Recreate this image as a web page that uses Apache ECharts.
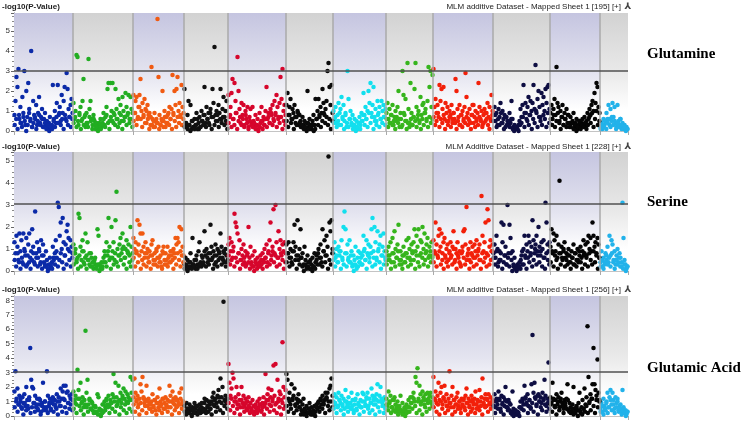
<!DOCTYPE html>
<html>
<head>
<meta charset="utf-8">
<script src="https://cdn.jsdelivr.net/npm/echarts@6/dist/echarts.min.js"></script>
<style>
html, body { margin: 0; padding: 0; background: #fff; }
#main { width: 745px; height: 427px; }
</style>
</head>
<body>
<div id="main"></div>
<script>
var chartDom = document.getElementById('main');
var myChart = echarts.init(chartDom);

// chromosome lengths (axis units) and colours, left to right
const chrLen = [59, 60, 51, 44, 58, 47, 53, 47, 60, 57, 50, 28];
const chrColors = ['#0b2aa8', '#22ad22', '#f05a12', '#111111', '#d6062c', '#0a0a0a',
  '#12dfee', '#36b51c', '#f2200a', '#0e0e42', '#050505', '#22b2ea'];

const traitNames = ['Glutamine', 'Serine', 'Glutamic Acid'];
const datasetTitles = [
  'MLM additive Dataset - Mapped Sheet 1 [195] [+]',
  'MLM Additive Dataset - Mapped Sheet 1 [228] [+]',
  'MLM additive Dataset - Mapped Sheet 1 [256] [+]'
];
const yMax = [5.9, 5.4, 8.3];
const thresholds = [3.0, 3.05, 3.05];

// -log10(p) in tenths, one list per chromosome, markers in map order
const gln = [
  [8,15,27,22,31,6,12,4,17,9,30,3,20,7,24,11,5,40,2,15,8,6,13,3,9,17,4,7,11,2,6,9,3,5,1,4,7,2,3,23,6,10,4,14,23,8,12,5,18,9,15,22,6,29,21,11,7,13,16,9],
  [14,6,10,38,37,3,8,12,5,15,26,7,2,9,4,36,11,15,6,3,8,5,1,4,2,3,1,6,2,4,9,3,7,12,21,24,5,24,10,24,4,8,21,11,6,16,9,13,5,17,10,7,19,12,8,18,6,17,11,9],
  [18,9,15,17,6,12,18,26,10,14,7,16,11,4,13,8,9,3,32,6,2,9,5,4,56,27,8,3,6,20,5,10,2,7,4,9,12,6,11,28,8,20,13,21,27,10,14,7,23,12,9],
  [21,4,2,8,15,3,13,1,5,2,6,3,9,1,4,7,2,10,5,8,22,4,12,6,9,3,11,7,21,14,42,8,10,5,13,9,21,6,11,17,7,10,15,4],
  [18,7,12,19,26,6,24,15,9,37,20,11,4,14,8,13,3,10,6,12,2,7,11,4,12,5,2,8,3,6,1,9,4,12,5,7,3,10,22,6,9,4,11,8,13,6,15,9,18,12,7,14,27,16,31,10,13,8],
  [13,19,8,12,16,6,11,9,13,4,7,10,3,8,5,2,7,3,5,1,4,20,2,6,3,1,5,8,3,16,6,10,16,7,12,9,21,14,8,11,15,30,34,22,13,23,9],
  [10,6,12,4,8,14,3,11,17,7,13,5,9,2,30,16,6,10,4,8,3,6,2,5,1,4,7,3,9,5,19,8,12,6,10,20,14,24,9,13,22,7,11,5,15,9,12,6,15,10,13,7,11],
  [9,14,6,11,4,8,13,3,7,10,5,12,20,6,9,2,30,18,8,16,5,34,11,4,24,9,3,7,21,34,12,6,10,5,17,8,13,14,9,11,6,15,32,22,30,12,28],
  [31,12,16,9,13,7,23,15,21,11,22,6,14,9,12,5,10,8,13,4,9,6,26,20,11,7,13,3,8,10,5,12,29,17,9,6,11,4,8,13,13,7,10,5,9,24,12,6,10,3,8,11,5,9,14,7,12,6,18,10],
  [8,12,5,9,3,11,7,14,4,10,6,8,2,7,5,3,9,4,15,6,2,3,1,2,1,3,5,11,7,13,23,9,14,6,12,17,8,15,10,14,23,11,33,9,16,20,12,7,19,13,17,10,21,14,22,23,11],
  [9,13,6,11,16,8,32,14,12,5,10,7,13,3,9,6,11,4,8,2,7,4,5,9,2,4,6,1,3,5,2,4,6,3,7,2,5,9,6,11,8,13,15,10,19,14,24,22,12,9],
  [2,4,1,6,3,5,9,6,13,3,11,5,14,7,12,4,2,13,5,3,6,1,4,2,3,1,2,1]
];
// the dense low-scoring markers under each chromosome, tenths
const glnBase = [
  [3,6,1,8,4,2,7,5,0,3,9,6,2,4,7,1,5,8,3,6,2,4,1,3,0,2,1,5,2,7,4,9,3,6,1,8,5,3,7,2,6],
  [4,7,2,5,9,1,6,3,8,4,2,7,5,1,6,3,2,0,4,1,3,6,2,8,4,1,7,5,9,3,6,2,4,8,1,5,7,3,9,4,6,2],
  [5,9,3,7,12,6,2,8,4,10,6,1,7,3,5,2,6,4,1,3,5,2,7,4,8,3,6,1,9,5,2,7,4,8,3,6],
  [2,4,1,3,0,5,2,1,3,6,1,2,5,3,8,2,6,4,9,1,7,3,5,8,2,6,4,7,3,5,1],
  [4,8,2,6,3,9,1,5,7,3,6,2,8,4,1,5,3,2,4,1,3,0,2,5,1,3,6,2,7,4,9,3,5,8,2,6,4,7,1,5,3],
  [5,2,8,4,6,1,7,3,9,4,2,3,1,2,0,4,1,2,3,0,1,6,3,8,2,5,9,4,7,3,6,1,5],
  [4,7,2,5,9,3,6,1,8,4,2,6,3,1,3,0,2,4,1,5,8,3,6,2,9,4,7,1,5,3,8,2,6,4,7,3],
  [6,2,4,8,3,5,1,7,4,2,6,3,9,5,1,4,2,6,3,7,5,2,8,4,1,6,3,9,5,2,7,4,6],
  [7,3,5,9,2,6,4,8,1,5,3,7,2,6,9,4,1,5,3,8,2,6,4,7,3,5,1,8,4,2,6,3,7,5,2,4,9,6,3,1,5,8],
  [5,8,2,6,3,9,4,1,7,3,5,2,6,1,0,2,1,0,3,4,7,2,9,5,3,8,1,6,4,10,2,7,5,3,8,6,2,9,4],
  [6,3,8,2,5,9,4,1,7,3,6,2,8,4,2,4,1,3,0,2,5,1,3,2,4,1,3,7,4,9,2,6,10,3,5],
  [1,3,2,5,1,4,6,2,7,3,5,1,4,2,6,3,1,2,0,1]
];

const ser = [
  [13,8,16,11,5,17,9,14,4,17,10,7,15,3,12,17,6,9,19,11,4,27,8,13,6,10,3,14,7,12,4,2,9,5,1,3,6,2,4,11,5,8,14,6,31,29,16,22,10,24,13,7,12,18,21,15,9,14,11,8],
  [12,8,10,4,6,26,24,11,5,14,9,3,17,7,13,5,8,2,6,4,1,5,3,2,19,16,3,1,4,2,6,9,4,13,7,24,11,6,20,9,13,5,23,36,10,7,12,15,8,17,11,6,10,14,9,12,7,20,11,8],
  [15,10,13,8,23,12,21,17,9,17,11,6,13,8,10,4,9,7,12,14,5,8,3,10,6,11,4,7,2,9,11,5,8,3,11,6,4,9,7,5,10,8,15,12,15,13,20,9,19,11,7],
  [3,6,2,5,1,4,8,2,15,3,5,1,7,3,9,13,4,2,6,3,18,7,10,4,8,5,21,11,6,9,3,12,7,10,5,8,17,11,6,9,4,10,7,5],
  [12,15,9,13,6,11,26,22,20,17,8,14,5,10,7,12,4,9,3,8,20,6,11,4,7,2,9,5,3,6,2,4,7,3,8,5,10,6,12,4,9,14,22,7,11,28,8,30,13,6,18,10,14,7,12,9,13,8],
  [12,8,13,6,10,4,9,13,21,11,7,23,5,10,19,6,8,3,11,5,2,7,4,1,5,3,6,2,8,4,7,3,10,6,12,4,19,9,14,7,16,11,52,22,18,23,10],
  [8,13,6,10,4,11,7,9,14,5,20,27,19,8,12,6,14,4,9,3,7,5,11,2,6,9,4,8,3,7,16,10,5,14,8,12,6,11,19,24,9,20,13,6,18,10,12,16,7,11,17,9,5],
  [9,5,11,7,13,4,15,8,18,10,6,12,21,5,9,3,7,11,4,8,14,6,15,10,5,12,8,13,19,9,16,11,19,7,14,13,20,10,17,8,12,15,6,11,9,13,7],
  [14,9,22,12,7,16,19,11,17,8,13,15,6,10,12,5,9,13,7,11,18,4,10,8,13,6,9,3,8,11,18,19,12,29,7,10,5,13,8,11,6,12,9,14,7,10,12,5,34,16,9,13,22,8,28,23,11,14,9,12],
  [8,12,6,16,10,4,9,5,22,13,21,7,11,3,30,8,21,15,5,9,3,6,2,1,3,2,4,1,7,3,10,16,6,12,9,16,13,7,11,23,14,8,12,16,9,20,11,7,13,10,14,6,31,22,12,9,13],
  [11,19,8,17,14,9,16,6,12,41,8,11,5,9,13,6,8,3,10,7,4,9,6,12,3,8,5,10,4,7,11,6,9,14,8,12,7,13,16,10,15,9,22,16,11,13,8,15,12,6],
  [4,9,2,6,3,8,5,11,4,16,7,14,12,5,9,3,7,10,4,8,6,2,31,15,5,3,1,2]
];
const serBase = [
  [5,2,8,4,1,6,3,9,2,7,4,1,5,8,3,6,2,9,4,1,7,3,2,0,1,3,1,6,3,9,2,5,8,4,1,7,3,10,5,2,6],
  [3,8,5,1,7,2,9,4,6,1,5,3,8,2,4,6,1,3,0,2,1,4,7,2,9,5,1,6,3,8,4,2,7,5,10,3,6,1,8,4,2,5],
  [6,2,9,4,7,1,5,3,8,2,6,4,1,7,3,5,9,2,6,4,1,8,3,5,2,7,4,9,1,6,3,8,5,2,7,4],
  [1,3,0,2,4,1,3,2,5,1,2,3,7,4,9,2,6,3,8,5,1,7,4,2,9,6,3,5,8,2,4],
  [7,3,5,9,2,6,4,8,1,5,3,6,2,7,4,1,3,2,0,4,1,3,2,5,1,4,6,2,8,3,5,9,4,7,2,6,3,8,5,1,4],
  [4,8,2,6,3,9,5,1,7,3,6,2,0,3,1,2,4,1,0,2,1,5,8,3,6,2,9,4,7,1,5,3,8],
  [5,2,7,4,9,1,6,3,8,2,5,4,7,2,0,3,1,2,4,6,3,9,5,1,7,4,8,2,6,3,5,9,4,1,7,3,6],
  [3,7,5,1,8,4,2,6,9,3,5,1,7,4,8,2,6,3,9,5,1,7,4,2,8,6,3,5,9,2,7,4,6],
  [4,8,2,6,9,3,5,1,7,4,2,8,6,3,10,5,1,7,4,2,9,6,3,5,8,1,4,7,2,6,3,9,5,1,8,4,6,2,7,3,5,9],
  [6,3,9,2,5,8,1,4,7,3,6,2,8,0,2,1,0,1,2,5,9,3,7,1,6,4,8,2,5,10,3,7,4,9,2,6,1,8,5,3],
  [4,9,2,7,5,1,8,3,6,10,2,5,7,4,1,6,3,8,2,5,9,4,1,7,3,6,2,8,5,3,9,4,7,1,6],
  [2,5,1,4,7,3,6,2,8,4,1,5,3,6,2,4,1,3,0,2]
];

const glu = [
  [17,31,12,19,8,14,10,6,13,9,15,7,20,11,5,13,47,25,20,19,9,14,6,12,4,8,11,3,9,23,6,10,4,31,14,7,12,5,9,13,8,11,6,15,10,13,7,19,12,17,21,11,21,16,17,9,14,12,15,11],
  [17,11,14,8,32,18,12,23,9,13,6,11,59,16,25,8,12,5,10,4,7,3,6,2,15,13,5,1,4,8,3,10,6,12,8,14,7,11,9,15,29,10,23,13,8,21,11,16,9,14,19,12,17,10,15,13,11,27,16,25],
  [13,26,16,10,14,8,12,22,17,27,13,9,11,21,7,12,9,5,10,15,7,11,4,9,13,6,19,10,8,12,5,9,13,7,11,6,21,14,10,17,12,8,13,6,11,9,16,12,19,10,8],
  [7,3,9,5,2,8,4,1,6,3,9,5,2,7,4,8,2,6,3,5,9,4,11,6,3,8,5,10,13,16,7,12,9,14,18,10,26,13,20,79,11,14,9,12],
  [36,23,14,19,30,26,10,13,20,8,15,11,6,20,9,14,7,12,5,10,13,6,9,4,11,7,3,8,5,10,6,12,8,4,9,13,7,29,11,15,19,8,13,18,10,35,14,36,9,25,12,17,15,11,51,20,13,18],
  [29,25,12,16,8,22,11,14,19,7,12,9,15,6,10,4,8,12,5,3,7,2,5,9,3,6,1,4,7,3,8,5,10,6,12,8,14,9,11,16,13,16,10,19,21,26,14],
  [10,15,8,13,6,16,11,9,14,7,12,5,18,10,8,13,6,9,16,11,4,8,12,5,15,9,7,11,6,16,15,10,8,13,16,7,12,9,19,14,11,13,8,15,22,10,14,20,12,9,11,13,7],
  [12,7,17,9,14,6,11,4,13,8,5,10,3,7,14,4,9,2,6,5,8,3,11,6,13,9,13,16,10,27,23,33,12,21,15,10,17,13,8,15,11,16,12,14,16,9,13],
  [27,12,17,9,14,23,11,16,20,8,13,21,10,15,7,12,31,9,14,20,6,11,8,13,16,7,10,5,12,8,11,6,14,19,9,12,7,10,14,5,9,12,17,8,11,6,18,10,13,26,8,12,15,7,11,15,9,13,8,11],
  [10,15,6,12,8,17,11,5,14,9,13,7,20,10,6,11,4,8,3,17,5,2,4,1,3,2,6,10,5,12,8,21,13,9,15,7,11,6,22,56,16,23,12,8,14,15,10,13,9,16,11,25,14,7,12,37,11],
  [13,9,23,12,7,11,15,8,13,6,10,16,9,5,11,7,12,22,4,9,6,3,8,20,5,2,7,4,9,16,3,6,11,5,19,8,13,62,27,10,15,12,22,47,22,18,14,39,16,11],
  [5,9,3,12,7,4,10,16,6,13,18,8,16,11,5,13,9,12,4,7,8,3,18,6,2,4,1,3]
];
const gluBase = [
  [6,10,3,8,12,5,1,9,4,7,11,2,6,9,3,8,5,12,1,7,4,10,6,2,9,4,11,3,8,5,1,10,7,3,12,6,2,9,5,8,4],
  [5,9,2,12,7,4,10,1,8,6,3,11,5,9,2,7,3,1,4,0,2,8,4,11,6,2,9,5,13,3,7,10,1,6,12,4,8,2,9,5,11,3],
  [8,3,11,6,1,9,4,12,7,2,10,5,8,3,6,11,1,9,4,7,2,12,5,8,3,10,6,1,9,4,11,7,2,8,5,10],
  [3,1,5,2,6,0,4,2,7,1,3,5,9,4,12,2,7,10,5,1,8,11,3,6,13,4,9,2,7,10,5],
  [9,4,12,7,2,10,5,8,1,11,6,3,9,4,7,2,5,3,1,6,2,4,8,3,6,1,9,5,11,3,7,12,4,8,2,10,6,1,9,5,7],
  [7,3,10,5,12,2,8,4,11,6,1,3,1,4,0,2,5,1,3,2,0,6,9,3,11,5,8,2,12,7,4,10,6],
  [5,9,2,7,11,4,8,1,10,6,3,9,5,7,2,11,4,8,1,6,10,3,7,12,5,2,9,4,8,1,11,6,3,10,7,2,5],
  [8,4,10,2,6,11,3,7,1,5,3,1,4,0,2,6,3,9,5,12,7,2,10,4,8,1,11,6,3,9,5,10,7],
  [6,11,3,8,1,10,5,12,2,7,4,9,6,1,11,3,8,5,10,2,7,12,4,9,1,6,3,11,8,2,5,10,4,7,1,9,6,12,3,8,5,10],
  [7,2,10,5,12,3,8,1,11,6,4,9,2,1,0,3,1,2,0,6,10,4,12,8,2,11,5,9,3,13,7,1,10,6,4,12,8,3,9,5],
  [8,3,11,6,1,10,4,12,7,2,9,5,11,3,2,5,1,3,6,0,4,2,1,5,3,7,2,9,4,12,7,2,11,6,10],
  [3,7,1,5,9,2,6,11,4,8,2,6,10,3,5,1,4,2,0,3]
];

const panels = [[gln, glnBase], [ser, serBase], [glu, gluBase]];

const chrStart = [];
let acc = 0;
chrLen.forEach(function (l) { chrStart.push(acc); acc += l; });
const totalLen = acc;

// markers are spread evenly along their chromosome in list order
function toPoints(lists) {
  const pts = [];
  lists.forEach(function (panel) {
    panel.forEach(function (vals, c) {
      const step = chrLen[c] / vals.length;
      vals.forEach(function (v, i) {
        pts.push([chrStart[c] + (i + 0.5) * step, v / 10, c]);
      });
    });
  });
  return pts;
}

const lavender = {
  type: 'linear', x: 0, y: 0, x2: 0, y2: 1,
  colorStops: [{ offset: 0, color: '#c5c5e0' }, { offset: 0.5, color: '#e3e3ef' }, { offset: 0.82, color: '#ffffff' }]
};
const grey = {
  type: 'linear', x: 0, y: 0, x2: 0, y2: 1,
  colorStops: [{ offset: 0, color: '#d2d2d2' }, { offset: 0.5, color: '#e9e9e9' }, { offset: 0.82, color: '#ffffff' }]
};

const gridBoxes = [
  { left: 14, right: 117, top: 13, height: 118 },
  { left: 14, right: 117, top: 152, height: 119 },
  { left: 14, right: 117, top: 296, height: 120 }
];
const titleY = [7, 147, 290];
const traitY = [54, 202, 368];

const font = 'Liberation Sans, Arial, sans-serif';

let grid = [], xAxis = [], yAxis = [], series = [], graphic = [];

panels.forEach(function (lists, k) {
  grid.push(gridBoxes[k]);

  xAxis.push({
    type: 'value', gridIndex: k, min: 0, max: totalLen,
    axisLabel: { show: false },
    splitLine: { show: false },
    axisLine: { show: true, lineStyle: { color: '#c4c4c4', width: 1 } },
    axisTick: { show: true, customValues: chrStart.concat([totalLen]), length: 4, lineStyle: { color: '#aaaaaa' } }
  });

  yAxis.push({
    type: 'value', gridIndex: k, min: 0, max: yMax[k], interval: 1,
    splitLine: { show: false },
    axisLine: { show: true, lineStyle: { color: '#666666' } },
    axisTick: { show: true, length: 3, lineStyle: { color: '#666666' } },
    minorTick: { show: true, splitNumber: 4, length: 2, lineStyle: { color: '#888888' } },
    axisLabel: { fontSize: 8, color: '#333', margin: 4, fontFamily: font, showMaxLabel: false }
  });

  // shaded chromosome bands, separators and significance line
  series.push({
    type: 'scatter', xAxisIndex: k, yAxisIndex: k, data: [], silent: true, z: 1,
    markArea: {
      silent: true,
      data: chrLen.map(function (l, c) {
        return [
          { xAxis: chrStart[c], itemStyle: { color: c % 2 === 0 ? lavender : grey, opacity: 1 } },
          { xAxis: chrStart[c] + l }
        ];
      })
    },
    markLine: {
      silent: true, symbol: ['none', 'none'], label: { show: false },
      data: chrStart.slice(1).map(function (v) {
        return { xAxis: v, lineStyle: { color: '#aaaaaa', width: 1.5, type: 'solid' } };
      }).concat([{ yAxis: thresholds[k], lineStyle: { color: '#505050', width: 1.5, type: 'solid' } }])
    }
  });

  series.push({
    type: 'scatter', xAxisIndex: k, yAxisIndex: k, z: 3, silent: true,
    symbolSize: 4.5,
    data: toPoints(lists),
    itemStyle: { opacity: 1, color: function (p) { return chrColors[p.data[2]]; } }
  });

  graphic.push({
    type: 'text', x: 2, y: titleY[k],
    style: { text: '-log10(P-Value)', fontSize: 8, fontWeight: 'bold', fontFamily: font, fill: '#222', textVerticalAlign: 'middle' }
  });
  graphic.push({
    type: 'text', x: 621, y: titleY[k],
    style: { text: datasetTitles[k], fontSize: 8, fontFamily: font, fill: '#222', textAlign: 'right', textVerticalAlign: 'middle' }
  });
  graphic.push({
    type: 'text', x: 628, y: titleY[k],
    style: { text: '⅄', fontSize: 9, fontWeight: 'bold', fontFamily: 'DejaVu Sans', fill: '#444', textAlign: 'center', textVerticalAlign: 'middle' }
  });
  graphic.push({
    type: 'text', x: 647, y: traitY[k],
    style: { text: traitNames[k], fontSize: 15, fontWeight: 'bold', fontFamily: 'Liberation Serif, Times New Roman, serif', fill: '#000', textVerticalAlign: 'middle' }
  });
});

var option = {
  animation: false,
  backgroundColor: '#ffffff',
  grid: grid,
  xAxis: xAxis,
  yAxis: yAxis,
  series: series,
  graphic: graphic
};

myChart.setOption(option);
</script>
</body>
</html>
